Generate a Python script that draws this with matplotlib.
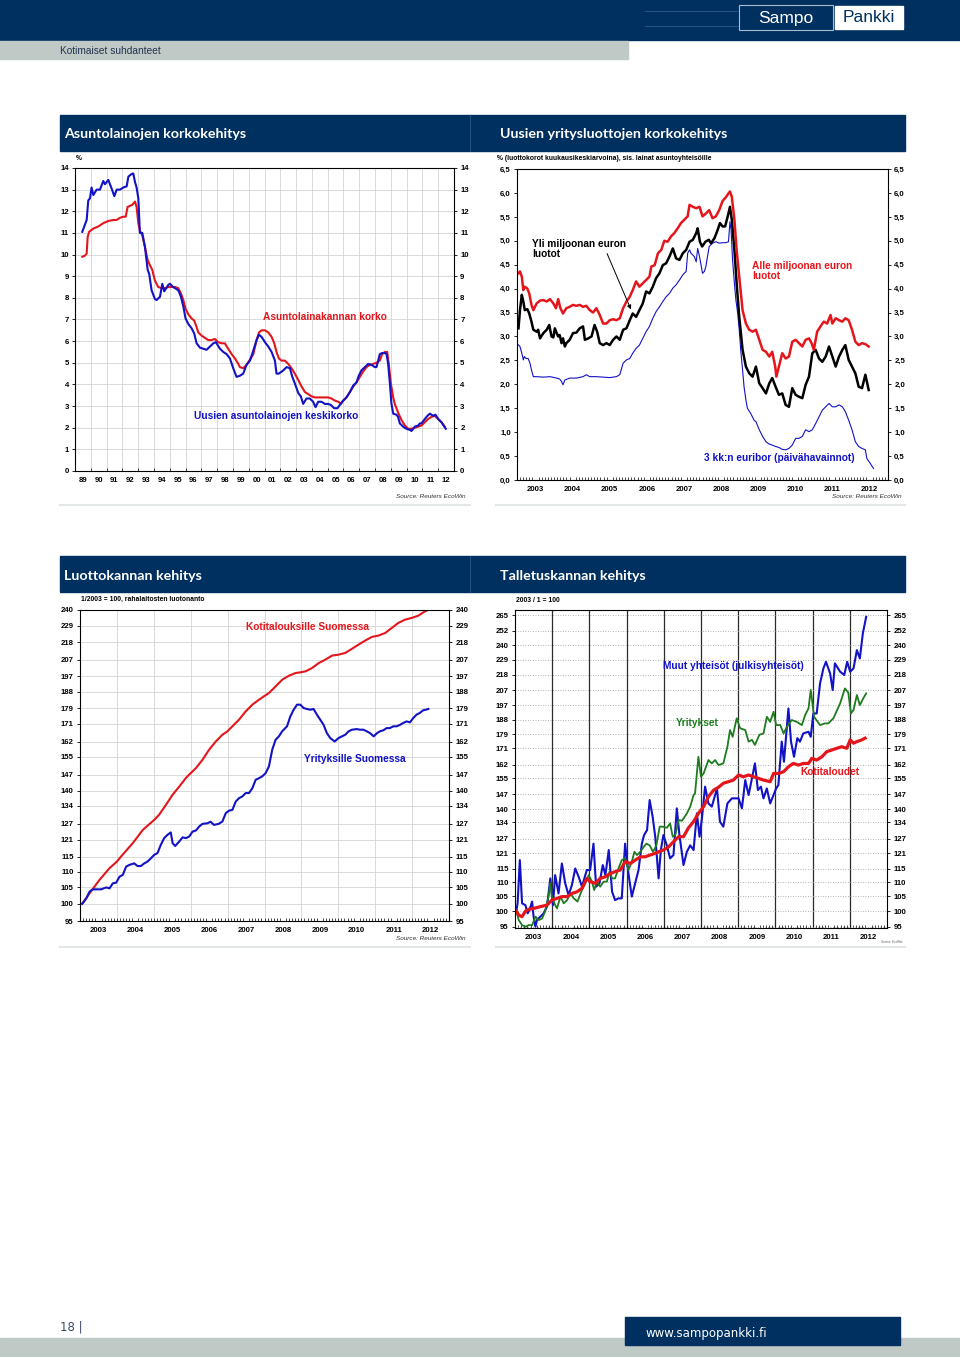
import numpy as np
import matplotlib
matplotlib.use('Agg')
import matplotlib.pyplot as plt
from matplotlib.patches import Rectangle
from matplotlib.ticker import FixedLocator, FixedFormatter, NullLocator, MultipleLocator

plt.rcParams['font.family'] = ['Liberation Sans', 'DejaVu Sans']
plt.rcParams['font.weight'] = 'bold'

W, H = 960, 1357
NAVY = '#00305f'
GREYBAND = '#bfc9c5'
RED = '#e4161c'
BLUE = '#1212c6'
GREEN = '#1e7b1e'

# --- Asuntolainojen korkokehitys (%), (year, value)
mortgage_stock = [(1989.46, 9.9), (1989.63, 9.95), (1989.74, 10.05), (1989.80, 10.8), (1989.89, 11.05),
    (1990.16, 11.2), (1990.48, 11.3), (1990.79, 11.45), (1991.11, 11.55), (1991.43, 11.6), (1991.64, 11.6),
    (1991.85, 11.7), (1992.06, 11.75), (1992.21, 11.75), (1992.33, 12.2), (1992.48, 12.25), (1992.63, 12.3),
    (1992.80, 12.45), (1992.90, 12.2), (1993.01, 11.45), (1993.11, 11.1), (1993.26, 10.9), (1993.43, 10.35),
    (1993.60, 9.75), (1993.75, 9.5), (1993.89, 9.3), (1994.06, 8.8), (1994.27, 8.5), (1994.49, 8.45),
    (1994.70, 8.45), (1994.91, 8.5), (1995.12, 8.5), (1995.33, 8.5), (1995.54, 8.45), (1995.71, 8.2),
    (1995.86, 7.9), (1996.00, 7.5), (1996.17, 7.25), (1996.38, 7.05), (1996.55, 6.95), (1996.70, 6.65),
    (1996.81, 6.4), (1997.02, 6.25), (1997.23, 6.15), (1997.44, 6.05), (1997.65, 6.05), (1997.86, 6.1),
    (1998.07, 5.95), (1998.28, 5.9), (1998.49, 5.9), (1998.70, 5.65), (1998.92, 5.4), (1999.13, 5.2),
    (1999.34, 4.95), (1999.44, 4.8), (1999.65, 4.75), (1999.86, 4.9), (2000.08, 5.15), (2000.29, 5.4),
    (2000.50, 6.05), (2000.65, 6.4), (2000.81, 6.5), (2001.03, 6.5), (2001.24, 6.4), (2001.45, 6.2),
    (2001.62, 5.9), (2001.76, 5.5), (2001.91, 5.2), (2002.08, 5.1), (2002.29, 5.1), (2002.50, 4.95),
    (2002.71, 4.75), (2002.92, 4.5), (2003.14, 4.2), (2003.35, 3.9), (2003.56, 3.65), (2003.77, 3.55),
    (2003.98, 3.45), (2004.19, 3.4), (2004.40, 3.4), (2004.61, 3.4), (2004.82, 3.4), (2005.03, 3.4),
    (2005.24, 3.35), (2005.46, 3.25), (2005.67, 3.2), (2005.84, 3.1), (2005.98, 3.25), (2006.19, 3.4),
    (2006.41, 3.65), (2006.62, 3.9), (2006.83, 4.1), (2007.04, 4.35), (2007.25, 4.6), (2007.46, 4.8),
    (2007.67, 4.9), (2007.88, 4.95), (2008.09, 5.0), (2008.30, 5.1), (2008.45, 5.4), (2008.62, 5.5),
    (2008.77, 5.5), (2008.87, 4.95), (2009.00, 4.05), (2009.15, 3.4), (2009.25, 3.1), (2009.46, 2.7),
    (2009.68, 2.35), (2009.89, 2.1), (2010.10, 1.95), (2010.31, 1.95), (2010.52, 2.0), (2010.73, 2.05),
    (2010.94, 2.1), (2011.15, 2.25), (2011.36, 2.4), (2011.57, 2.5), (2011.78, 2.55), (2012.00, 2.4),
    (2012.21, 2.25), (2012.42, 2.05)]

mortgage_new = [(1989.46, 11.05), (1989.74, 11.6), (1989.84, 12.5), (1989.95, 12.6), (1990.05, 13.1),
    (1990.16, 12.75), (1990.37, 13.0), (1990.58, 13.0), (1990.79, 13.4), (1990.90, 13.25), (1991.11, 13.45),
    (1991.32, 13.05), (1991.49, 12.7), (1991.64, 13.0), (1991.85, 13.0), (1992.06, 13.1), (1992.27, 13.15),
    (1992.38, 13.6), (1992.54, 13.7), (1992.69, 13.75), (1992.80, 13.35), (1992.90, 13.1), (1993.01, 12.6),
    (1993.07, 11.6), (1993.11, 11.0), (1993.26, 11.0), (1993.43, 10.35), (1993.60, 9.3), (1993.70, 9.1),
    (1993.85, 8.35), (1994.06, 7.95), (1994.17, 7.9), (1994.38, 8.05), (1994.53, 8.65), (1994.65, 8.3),
    (1994.91, 8.6), (1995.01, 8.65), (1995.22, 8.5), (1995.54, 8.35), (1995.71, 8.05), (1995.86, 7.6),
    (1996.00, 7.05), (1996.17, 6.8), (1996.38, 6.6), (1996.55, 6.35), (1996.70, 5.9), (1996.91, 5.7),
    (1997.12, 5.65), (1997.33, 5.6), (1997.54, 5.75), (1997.76, 5.9), (1997.92, 5.95), (1998.18, 5.65),
    (1998.39, 5.5), (1998.60, 5.4), (1998.81, 5.2), (1999.02, 4.75), (1999.23, 4.35), (1999.44, 4.4),
    (1999.65, 4.5), (1999.86, 4.9), (2000.08, 5.1), (2000.22, 5.4), (2000.39, 5.8), (2000.50, 6.05),
    (2000.65, 6.3), (2000.81, 6.2), (2001.03, 5.95), (2001.24, 5.75), (2001.45, 5.5), (2001.66, 5.1),
    (2001.76, 4.5), (2001.91, 4.5), (2002.19, 4.65), (2002.40, 4.8), (2002.61, 4.75), (2002.76, 4.35),
    (2002.92, 4.05), (2003.14, 3.6), (2003.30, 3.45), (2003.45, 3.1), (2003.66, 3.35), (2003.87, 3.35),
    (2004.08, 3.2), (2004.23, 2.95), (2004.40, 3.2), (2004.61, 3.2), (2004.82, 3.1), (2005.03, 3.1),
    (2005.20, 3.05), (2005.41, 2.9), (2005.62, 2.9), (2005.77, 3.05), (2005.98, 3.25), (2006.19, 3.4),
    (2006.41, 3.65), (2006.62, 3.95), (2006.83, 4.1), (2006.97, 4.4), (2007.14, 4.65), (2007.35, 4.8),
    (2007.57, 4.95), (2007.78, 4.9), (2007.99, 4.8), (2008.09, 4.8), (2008.20, 5.1), (2008.30, 5.4),
    (2008.45, 5.45), (2008.62, 5.45), (2008.73, 5.4), (2008.83, 4.95), (2008.94, 4.05), (2009.04, 3.1),
    (2009.15, 2.65), (2009.36, 2.6), (2009.46, 2.5), (2009.57, 2.2), (2009.78, 2.05), (2009.99, 1.95),
    (2010.20, 1.9), (2010.31, 1.85), (2010.52, 2.05), (2010.73, 2.1), (2010.84, 2.2), (2010.94, 2.2),
    (2011.15, 2.4), (2011.32, 2.55), (2011.47, 2.65), (2011.68, 2.55), (2011.83, 2.6), (2012.00, 2.4),
    (2012.21, 2.25), (2012.38, 2.05), (2012.48, 1.95)]

# --- Uusien yritysluottojen korkokehitys (%)
loans_small = [(2003.04, 4.32), (2003.08, 4.36), (2003.13, 4.25), (2003.17, 3.97), (2003.21, 4.04),
    (2003.28, 4.0), (2003.33, 3.9), (2003.39, 3.66), (2003.44, 3.55), (2003.53, 3.69), (2003.62, 3.75),
    (2003.71, 3.76), (2003.80, 3.73), (2003.89, 3.78), (2003.98, 3.69), (2004.05, 3.59), (2004.11, 3.78),
    (2004.17, 3.59), (2004.24, 3.48), (2004.33, 3.59), (2004.42, 3.62), (2004.51, 3.66), (2004.60, 3.64),
    (2004.69, 3.66), (2004.78, 3.62), (2004.87, 3.64), (2004.96, 3.55), (2005.05, 3.5), (2005.14, 3.59),
    (2005.23, 3.45), (2005.32, 3.27), (2005.41, 3.27), (2005.50, 3.34), (2005.59, 3.36), (2005.68, 3.34),
    (2005.77, 3.38), (2005.86, 3.59), (2005.95, 3.73), (2006.04, 3.83), (2006.12, 3.97), (2006.21, 4.15),
    (2006.30, 4.04), (2006.39, 4.11), (2006.48, 4.18), (2006.57, 4.25), (2006.62, 4.46), (2006.71, 4.49),
    (2006.80, 4.74), (2006.89, 4.81), (2006.97, 5.0), (2007.06, 4.98), (2007.15, 5.09), (2007.24, 5.16),
    (2007.33, 5.26), (2007.42, 5.37), (2007.51, 5.44), (2007.60, 5.51), (2007.65, 5.75), (2007.74, 5.71),
    (2007.83, 5.68), (2007.92, 5.71), (2008.00, 5.51), (2008.09, 5.57), (2008.18, 5.64), (2008.27, 5.47),
    (2008.36, 5.51), (2008.45, 5.64), (2008.54, 5.83), (2008.63, 5.91), (2008.70, 5.99), (2008.74, 6.03),
    (2008.79, 5.92), (2008.86, 5.44), (2008.92, 4.81), (2008.99, 4.25), (2009.08, 3.55), (2009.17, 3.27),
    (2009.26, 3.14), (2009.35, 3.1), (2009.44, 3.14), (2009.53, 2.93), (2009.62, 2.72), (2009.71, 2.68),
    (2009.80, 2.58), (2009.88, 2.68), (2009.96, 2.37), (2009.99, 2.16), (2010.06, 2.37), (2010.15, 2.65),
    (2010.24, 2.54), (2010.33, 2.58), (2010.42, 2.89), (2010.51, 2.93), (2010.60, 2.86), (2010.69, 2.79),
    (2010.78, 2.93), (2010.87, 2.96), (2010.94, 2.86), (2011.00, 2.72), (2011.09, 3.1), (2011.18, 3.21),
    (2011.27, 3.31), (2011.36, 3.27), (2011.45, 3.45), (2011.50, 3.27), (2011.59, 3.38), (2011.68, 3.34),
    (2011.77, 3.31), (2011.85, 3.38), (2011.94, 3.34), (2012.03, 3.14), (2012.12, 2.89), (2012.21, 2.82),
    (2012.30, 2.86), (2012.39, 2.84), (2012.48, 2.79)]

loans_large = [(2003.04, 3.17), (2003.08, 3.55), (2003.13, 3.87), (2003.17, 3.73), (2003.21, 3.55),
    (2003.28, 3.57), (2003.33, 3.48), (2003.39, 3.31), (2003.44, 3.14), (2003.53, 3.1), (2003.57, 3.14),
    (2003.62, 2.96), (2003.71, 3.07), (2003.80, 3.14), (2003.87, 3.24), (2003.93, 3.0), (2003.98, 2.98),
    (2004.02, 3.17), (2004.07, 3.07), (2004.11, 3.0), (2004.15, 3.03), (2004.20, 2.86), (2004.24, 2.96),
    (2004.29, 2.79), (2004.33, 2.86), (2004.42, 2.93), (2004.51, 3.07), (2004.60, 3.08), (2004.69, 3.17),
    (2004.78, 3.21), (2004.83, 2.93), (2004.92, 2.96), (2005.01, 3.0), (2005.09, 3.24), (2005.16, 3.1),
    (2005.23, 2.86), (2005.32, 2.82), (2005.41, 2.86), (2005.50, 2.82), (2005.59, 2.93), (2005.68, 3.0),
    (2005.77, 2.93), (2005.86, 3.14), (2005.95, 3.17), (2006.04, 3.34), (2006.12, 3.48), (2006.21, 3.41),
    (2006.30, 3.55), (2006.39, 3.69), (2006.48, 3.94), (2006.57, 3.9), (2006.66, 4.04), (2006.75, 4.22),
    (2006.84, 4.32), (2006.93, 4.49), (2007.02, 4.53), (2007.11, 4.67), (2007.20, 4.84), (2007.29, 4.63),
    (2007.38, 4.6), (2007.47, 4.74), (2007.56, 4.81), (2007.65, 4.98), (2007.74, 5.02), (2007.83, 5.16),
    (2007.87, 5.26), (2007.93, 4.98), (2007.99, 4.88), (2008.08, 4.98), (2008.17, 5.02), (2008.23, 4.95),
    (2008.32, 5.05), (2008.41, 5.23), (2008.47, 5.37), (2008.54, 5.3), (2008.61, 5.3), (2008.68, 5.51),
    (2008.74, 5.71), (2008.79, 5.44), (2008.86, 4.81), (2008.92, 4.11), (2008.99, 3.41), (2009.08, 2.72),
    (2009.17, 2.37), (2009.26, 2.23), (2009.35, 2.16), (2009.44, 2.37), (2009.53, 2.02), (2009.62, 1.92),
    (2009.71, 1.81), (2009.80, 2.02), (2009.88, 2.13), (2009.97, 1.95), (2010.06, 1.78), (2010.15, 1.81),
    (2010.24, 1.57), (2010.33, 1.53), (2010.42, 1.92), (2010.51, 1.78), (2010.60, 1.74), (2010.69, 1.71),
    (2010.78, 1.99), (2010.87, 2.16), (2010.96, 2.65), (2011.05, 2.72), (2011.14, 2.54), (2011.23, 2.47),
    (2011.32, 2.58), (2011.41, 2.79), (2011.50, 2.58), (2011.59, 2.37), (2011.68, 2.58), (2011.77, 2.72),
    (2011.85, 2.82), (2011.94, 2.51), (2012.03, 2.37), (2012.12, 2.23), (2012.21, 1.95), (2012.30, 1.92),
    (2012.39, 2.2), (2012.48, 1.88)]

euribor_3m = [(2002.99, 2.86), (2003.08, 2.79), (2003.13, 2.65), (2003.17, 2.51), (2003.20, 2.58),
    (2003.24, 2.54), (2003.30, 2.54), (2003.35, 2.44), (2003.39, 2.3), (2003.44, 2.16), (2003.53, 2.16),
    (2003.71, 2.15), (2003.89, 2.16), (2004.07, 2.13), (2004.15, 2.11), (2004.20, 2.06), (2004.24, 1.99),
    (2004.29, 2.09), (2004.42, 2.13), (2004.60, 2.13), (2004.78, 2.16), (2004.87, 2.2), (2004.96, 2.16),
    (2005.14, 2.16), (2005.32, 2.15), (2005.50, 2.14), (2005.68, 2.16), (2005.77, 2.2), (2005.86, 2.44),
    (2005.95, 2.51), (2006.04, 2.54), (2006.12, 2.65), (2006.21, 2.75), (2006.30, 2.82), (2006.39, 2.96),
    (2006.48, 3.1), (2006.57, 3.21), (2006.66, 3.38), (2006.75, 3.52), (2006.84, 3.62), (2006.93, 3.73),
    (2007.02, 3.83), (2007.11, 3.9), (2007.20, 4.01), (2007.29, 4.08), (2007.38, 4.18), (2007.47, 4.29),
    (2007.56, 4.36), (2007.60, 4.74), (2007.65, 4.81), (2007.69, 4.74), (2007.78, 4.67), (2007.83, 4.56),
    (2007.87, 4.84), (2007.92, 4.67), (2008.00, 4.32), (2008.05, 4.36), (2008.09, 4.46), (2008.18, 4.88),
    (2008.27, 4.95), (2008.36, 4.98), (2008.45, 4.95), (2008.54, 4.96), (2008.63, 4.96), (2008.70, 4.98),
    (2008.74, 5.4), (2008.77, 5.23), (2008.81, 4.6), (2008.86, 4.11), (2008.90, 3.76), (2008.95, 3.48),
    (2008.99, 3.14), (2009.03, 2.72), (2009.08, 2.3), (2009.12, 1.95), (2009.17, 1.67), (2009.21, 1.5),
    (2009.30, 1.39), (2009.39, 1.25), (2009.44, 1.22), (2009.53, 1.05), (2009.62, 0.91), (2009.71, 0.8),
    (2009.80, 0.75), (2009.88, 0.73), (2009.97, 0.7), (2010.06, 0.68), (2010.15, 0.64), (2010.24, 0.63),
    (2010.33, 0.66), (2010.42, 0.73), (2010.51, 0.87), (2010.60, 0.87), (2010.69, 0.91), (2010.78, 1.05),
    (2010.87, 1.01), (2010.96, 1.05), (2011.05, 1.18), (2011.14, 1.32), (2011.23, 1.46), (2011.32, 1.53),
    (2011.41, 1.6), (2011.50, 1.53), (2011.59, 1.53), (2011.68, 1.57), (2011.77, 1.53), (2011.85, 1.43),
    (2011.94, 1.25), (2012.03, 1.05), (2012.12, 0.8), (2012.21, 0.7), (2012.30, 0.66), (2012.39, 0.63),
    (2012.43, 0.45), (2012.52, 0.35), (2012.61, 0.24)]

# --- Luottokannan kehitys (1/2003 = 100)
credit_households = [(2003.06, 100), (2003.26, 103.2), (2003.53, 107.4), (2003.80, 111.2), (2004.00, 113.4),
    (2004.15, 115.7), (2004.43, 119.8), (2004.70, 124.6), (2005.01, 128.4), (2005.14, 130.3), (2005.33, 134.3),
    (2005.51, 138.4), (2005.69, 141.8), (2005.87, 145.5), (2006.00, 147.6), (2006.14, 149.8), (2006.32, 153.6),
    (2006.50, 158.3), (2006.68, 162.2), (2006.86, 165.5), (2006.99, 167.1), (2007.13, 169.7), (2007.31, 173.1),
    (2007.49, 177.4), (2007.67, 181.0), (2007.85, 183.7), (2007.98, 185.5), (2008.12, 187.4), (2008.30, 191.1),
    (2008.48, 195.0), (2008.66, 197.3), (2008.84, 198.9), (2008.97, 199.3), (2009.11, 199.9), (2009.29, 201.9),
    (2009.47, 204.9), (2009.65, 207.0), (2009.83, 209.5), (2010.01, 210.1), (2010.19, 211.2), (2010.37, 213.8),
    (2010.55, 216.5), (2010.73, 219.1), (2010.91, 221.5), (2011.09, 222.4), (2011.27, 224.1), (2011.45, 227.5),
    (2011.63, 231.0), (2011.81, 233.2), (2011.99, 234.4), (2012.17, 236.0), (2012.35, 239.1), (2012.44, 240.0)]

credit_companies = [(2003.06, 100), (2003.17, 101.6), (2003.26, 103.7), (2003.35, 104.4), (2003.44, 104.4),
    (2003.57, 104.4), (2003.71, 105.0), (2003.80, 104.7), (2003.89, 106.3), (2003.98, 106.5), (2004.07, 108.4),
    (2004.16, 109.0), (2004.25, 111.7), (2004.34, 112.3), (2004.47, 112.8), (2004.56, 111.9), (2004.65, 111.9),
    (2004.74, 112.8), (2004.83, 113.4), (2004.92, 114.5), (2005.01, 115.7), (2005.10, 116.3), (2005.19, 119.2),
    (2005.28, 121.6), (2005.37, 122.8), (2005.46, 123.7), (2005.51, 119.8), (2005.58, 118.8), (2005.69, 120.4),
    (2005.78, 121.9), (2005.87, 121.6), (2005.96, 122.2), (2006.05, 124.0), (2006.14, 124.4), (2006.23, 125.9),
    (2006.32, 126.9), (2006.45, 127.1), (2006.54, 127.7), (2006.63, 126.5), (2006.76, 126.9), (2006.86, 127.8),
    (2006.95, 131.0), (2007.04, 132.0), (2007.13, 132.3), (2007.22, 135.6), (2007.31, 137.0), (2007.40, 137.7),
    (2007.49, 139.1), (2007.58, 139.1), (2007.67, 141.1), (2007.76, 144.7), (2007.85, 145.4), (2007.94, 146.2),
    (2008.03, 147.6), (2008.12, 150.6), (2008.21, 158.3), (2008.30, 163.0), (2008.39, 164.7), (2008.48, 167.2),
    (2008.61, 169.7), (2008.70, 174.8), (2008.79, 178.3), (2008.88, 181.0), (2008.97, 181.0), (2009.06, 179.2),
    (2009.15, 178.7), (2009.24, 178.3), (2009.33, 178.7), (2009.42, 175.7), (2009.51, 173.1), (2009.60, 170.5),
    (2009.69, 166.3), (2009.78, 163.9), (2009.90, 162.2), (2010.01, 163.9), (2010.10, 164.7), (2010.19, 165.5),
    (2010.28, 167.2), (2010.37, 168.0), (2010.50, 168.3), (2010.59, 168.0), (2010.68, 168.0), (2010.77, 167.2),
    (2010.86, 166.3), (2010.96, 164.7), (2011.05, 166.3), (2011.13, 167.2), (2011.22, 167.7), (2011.31, 168.8),
    (2011.40, 168.8), (2011.49, 169.7), (2011.58, 169.7), (2011.68, 170.5), (2011.76, 171.4), (2011.85, 172.2),
    (2011.94, 171.7), (2012.03, 173.9), (2012.12, 175.7), (2012.21, 176.6), (2012.30, 178.0), (2012.37, 178.3),
    (2012.44, 178.7)]

# --- Talletuskannan kehitys (2003/1 = 100)
deposits_households = [(2003.04, 100), (2003.10, 98.7), (2003.19, 98.2), (2003.28, 100), (2003.37, 100.6),
    (2003.50, 100.9), (2003.68, 101.5), (2003.86, 102.0), (2003.99, 103.7), (2004.13, 104.3), (2004.26, 104.9),
    (2004.40, 104.9), (2004.53, 106.0), (2004.67, 106.6), (2004.80, 107.8), (2004.93, 111.4), (2005.02, 110.2),
    (2005.16, 109.6), (2005.29, 111.4), (2005.43, 112.0), (2005.56, 113.2), (2005.69, 113.9), (2005.83, 114.5),
    (2005.96, 117.7), (2006.10, 117.0), (2006.23, 118.3), (2006.37, 119.6), (2006.50, 119.6), (2006.63, 120.3),
    (2006.77, 121.0), (2006.86, 121.6), (2006.99, 122.3), (2007.13, 123.6), (2007.26, 125.7), (2007.40, 127.8),
    (2007.53, 127.8), (2007.66, 131.5), (2007.80, 134.3), (2007.93, 138.0), (2008.07, 141.1), (2008.20, 145.8),
    (2008.34, 149.0), (2008.47, 150.4), (2008.60, 152.4), (2008.74, 153.2), (2008.87, 154.0), (2009.01, 156.6),
    (2009.14, 155.7), (2009.28, 156.6), (2009.41, 155.7), (2009.54, 154.9), (2009.68, 154.0), (2009.86, 153.2),
    (2009.95, 157.4), (2010.08, 157.4), (2010.22, 158.3), (2010.35, 160.9), (2010.48, 162.7), (2010.62, 161.8),
    (2010.75, 162.7), (2010.89, 162.7), (2010.98, 165.4), (2011.11, 164.5), (2011.25, 166.3), (2011.38, 169.1),
    (2011.51, 170.0), (2011.65, 171.0), (2011.78, 171.9), (2011.92, 171.0), (2012.01, 175.8), (2012.10, 173.9),
    (2012.19, 174.8), (2012.32, 175.8), (2012.41, 176.8)]

deposits_companies = [(2003.04, 100), (2003.10, 97.1), (2003.19, 95.5), (2003.28, 95.0), (2003.37, 95.5),
    (2003.46, 95.5), (2003.55, 98.2), (2003.64, 97.1), (2003.73, 97.6), (2003.81, 100), (2003.90, 104.9),
    (2003.95, 109.6), (2003.99, 104.9), (2004.08, 102.0), (2004.13, 100.9), (2004.22, 104.9), (2004.31, 102.6),
    (2004.40, 103.7), (2004.49, 106.0), (2004.58, 104.3), (2004.68, 103.2), (2004.80, 107.2), (2004.89, 109.6),
    (2004.98, 112.6), (2005.07, 110.2), (2005.13, 107.2), (2005.20, 110.2), (2005.29, 108.4), (2005.38, 110.2),
    (2005.47, 110.2), (2005.54, 113.9), (2005.61, 111.4), (2005.69, 111.4), (2005.78, 115.1), (2005.87, 118.3),
    (2005.96, 119.0), (2006.05, 114.5), (2006.14, 117.7), (2006.21, 121.6), (2006.28, 120.3), (2006.37, 121.6),
    (2006.46, 123.6), (2006.53, 124.9), (2006.62, 124.2), (2006.71, 121.6), (2006.80, 124.2), (2006.89, 132.1),
    (2006.97, 132.1), (2007.08, 131.6), (2007.17, 133.5), (2007.24, 127.8), (2007.31, 128.5), (2007.40, 135.0),
    (2007.49, 134.7), (2007.62, 138.0), (2007.71, 141.1), (2007.80, 146.6), (2007.84, 147.4), (2007.93, 166.3),
    (2008.00, 155.7), (2008.07, 157.4), (2008.20, 164.5), (2008.29, 162.7), (2008.38, 164.5), (2008.47, 161.8),
    (2008.60, 162.7), (2008.71, 171.9), (2008.78, 181.6), (2008.85, 177.6), (2008.96, 188.8), (2009.05, 182.7),
    (2009.19, 181.6), (2009.28, 174.8), (2009.37, 175.8), (2009.45, 172.9), (2009.57, 178.8), (2009.68, 179.6),
    (2009.77, 189.7), (2009.86, 186.6), (2009.95, 192.9), (2010.02, 184.6), (2010.13, 184.6), (2010.22, 179.6),
    (2010.31, 183.6), (2010.44, 187.7), (2010.57, 186.6), (2010.71, 184.6), (2010.80, 190.8), (2010.89, 195.0),
    (2010.95, 207.2), (2011.04, 189.7), (2011.20, 184.6), (2011.33, 185.6), (2011.42, 185.6), (2011.56, 188.8),
    (2011.74, 198.3), (2011.87, 208.3), (2011.96, 205.4), (2012.03, 191.8), (2012.10, 194.0), (2012.19, 203.8),
    (2012.27, 197.2), (2012.36, 201.5), (2012.44, 204.9)]

deposits_public = [(2003.04, 100.4), (2003.07, 102.6), (2003.13, 118.3), (2003.19, 102.6), (2003.28, 102.0),
    (2003.34, 99.3), (2003.39, 100.4), (2003.46, 103.2), (2003.50, 98.2), (2003.55, 95.0), (2003.59, 97.1),
    (2003.68, 98.2), (2003.77, 99.3), (2003.86, 101.5), (2003.95, 111.4), (2004.02, 102.0), (2004.08, 112.6),
    (2004.17, 106.0), (2004.26, 117.0), (2004.35, 109.6), (2004.44, 105.4), (2004.53, 109.0), (2004.62, 115.1),
    (2004.71, 112.0), (2004.80, 108.4), (2004.93, 114.5), (2005.02, 114.5), (2005.11, 124.9), (2005.18, 108.4),
    (2005.27, 109.6), (2005.36, 116.4), (2005.43, 112.6), (2005.52, 122.3), (2005.61, 106.6), (2005.69, 103.7),
    (2005.78, 104.3), (2005.87, 104.3), (2005.96, 124.9), (2006.05, 113.2), (2006.14, 104.9), (2006.23, 109.6),
    (2006.32, 114.5), (2006.41, 124.9), (2006.47, 128.5), (2006.55, 130.6), (2006.62, 144.2), (2006.70, 136.5),
    (2006.77, 127.8), (2006.86, 111.4), (2006.92, 122.3), (2006.99, 128.5), (2007.08, 124.2), (2007.17, 119.0),
    (2007.26, 120.3), (2007.35, 140.3), (2007.42, 128.5), (2007.53, 116.4), (2007.62, 121.6), (2007.71, 124.2),
    (2007.80, 122.3), (2007.89, 138.0), (2007.96, 127.8), (2008.02, 135.0), (2008.11, 150.7), (2008.20, 142.6),
    (2008.29, 141.1), (2008.43, 149.8), (2008.51, 134.3), (2008.60, 132.1), (2008.71, 142.6), (2008.83, 145.0),
    (2008.92, 145.0), (2009.01, 145.0), (2009.10, 140.3), (2009.19, 154.0), (2009.28, 146.6), (2009.37, 154.9),
    (2009.45, 162.7), (2009.53, 149.0), (2009.61, 150.7), (2009.68, 145.0), (2009.77, 149.8), (2009.86, 142.6),
    (2009.95, 146.6), (2010.02, 149.8), (2010.08, 151.5), (2010.17, 174.8), (2010.23, 163.6), (2010.35, 195.0),
    (2010.42, 174.8), (2010.50, 166.3), (2010.59, 176.8), (2010.66, 174.8), (2010.75, 179.6), (2010.89, 180.6),
    (2010.95, 177.6), (2011.02, 191.8), (2011.11, 191.8), (2011.20, 211.7), (2011.29, 222.5), (2011.36, 227.4),
    (2011.47, 218.9), (2011.54, 207.2), (2011.60, 226.2), (2011.74, 220.1), (2011.85, 217.7), (2011.93, 227.4),
    (2012.01, 220.1), (2012.10, 222.5), (2012.19, 236.3), (2012.27, 229.9), (2012.35, 249.6), (2012.44, 263.7)]

# axis labels
short_years = ['89', '90', '91', '92', '93', '94', '95', '96', '97', '98', '99', '00',
               '01', '02', '03', '04', '05', '06', '07', '08', '09', '10', '11', '12']
long_years = ['2003', '2004', '2005', '2006', '2007', '2008', '2009', '2010', '2011', '2012']
rate_ticks = list(range(0, 15))
corp_rate_ticks = [0.0, 0.5, 1.0, 1.5, 2.0, 2.5, 3.0, 3.5, 4.0, 4.5, 5.0, 5.5, 6.0, 6.5]
credit_ticks = [95, 100, 105, 110, 115, 121, 127, 134, 140, 147, 155, 162, 171, 179, 188, 197, 207, 218, 229, 240]
deposit_ticks = credit_ticks + [252, 265]


def unzip(pairs):
    a = np.array(pairs, dtype=float)
    return a[:, 0], a[:, 1]


fig = plt.figure(figsize=(W / 100, H / 100), dpi=100)
fig.patch.set_facecolor('white')
bg = fig.add_axes([0, 0, 1, 1])
bg.set_xlim(0, W)
bg.set_ylim(H, 0)
bg.axis('off')


def box(x0, y0, x1, y1, **kw):
    bg.add_patch(Rectangle((x0, y0), x1 - x0, y1 - y0, **kw))


def panel(x0, y0, x1, y1):
    ax = fig.add_axes([x0 / W, 1 - y1 / H, (x1 - x0) / W, (y1 - y0) / H])
    ax.patch.set_alpha(0)
    for s in ax.spines.values():
        s.set_linewidth(0.8)
    return ax


def year_axis(ax, first, last, labels, monthly):
    ax.set_xlim(first, last)
    ax.xaxis.set_major_locator(FixedLocator(np.arange(first, last) + 0.5))
    ax.xaxis.set_major_formatter(FixedFormatter(labels))
    ax.xaxis.set_minor_locator(MultipleLocator(1 / 12 if monthly else 1))
    ax.tick_params(axis='x', which='major', length=0, pad=4, labelsize=5.6)
    ax.tick_params(axis='x', which='minor', length=2.2 if monthly else 2.5, width=0.5, direction='in')


def value_axis(ax, ticks, labels):
    ax.yaxis.set_major_locator(FixedLocator(ticks))
    ax.yaxis.set_major_formatter(FixedFormatter(labels))
    ax.yaxis.set_minor_locator(NullLocator())
    ax.tick_params(axis='y', which='major', left=True, right=True, labelleft=True, labelright=True,
                   length=2.5, width=0.6, labelsize=5.6, pad=2)


# ---------- page decoration ----------
box(0, 0, W, 40, color=NAVY)
bg.plot([645, 738], [11, 11], color='#2a5584', lw=0.7)
bg.plot([645, 738], [26, 26], color='#2a5584', lw=0.7)
box(739, 5, 833, 30, fill=False, ec='#a9bccf', lw=0.8)
box(835, 6, 903, 29, color='white')
bg.text(786, 18, 'Sampo', color='white', fontsize=12.5, weight='normal', ha='center', va='center',
        family=['Liberation Sans Narrow', 'Liberation Sans'])
bg.text(869, 18, 'Pankki', color=NAVY, fontsize=12.5, weight='normal', ha='center', va='center',
        family=['Liberation Sans Narrow', 'Liberation Sans'])
box(0, 41, 628, 59, color=GREYBAND)
bg.text(60, 50.5, 'Kotimaiset suhdanteet', color='#22334f', fontsize=7.3, weight='normal', va='center',
        family=['Liberation Sans Narrow', 'Liberation Sans'])

for ytop in (115, 556):
    box(60, ytop, 905, ytop + 36, color=NAVY)
    bg.plot([470, 470], [ytop, ytop + 36], color='#234d7c', lw=0.8)
title_kw = dict(color='white', fontsize=10.3, weight='bold', va='center', family=['Lato', 'DejaVu Sans'])
bg.text(64, 134, 'Asuntolainojen korkokehitys', **title_kw)
bg.text(500, 134, 'Uusien yritysluottojen korkokehitys', **title_kw)
bg.text(64, 576, 'Luottokannan kehitys', **title_kw)
bg.text(500, 576, 'Talletuskannan kehitys', **title_kw)

for yline in (505, 947):
    bg.plot([60, 470], [yline, yline], color='#e3e7e7', lw=1.5)
    bg.plot([496, 905], [yline, yline], color='#e3e7e7', lw=1.5)

box(0, 1338, W, H, color=GREYBAND)
box(625, 1317, 900, 1345, color=NAVY)
bg.text(645, 1334, 'www.sampopankki.fi', color='white', fontsize=8.5, weight='normal', va='center',
        family='DejaVu Sans')
bg.text(60, 1327, '18 |', color='#3a4a66', fontsize=8.5, weight='normal', va='center', family='DejaVu Sans')

# ---------- chart 1 ----------
ax1 = panel(75, 168, 454, 471)
x, y = unzip(mortgage_stock)
ax1.plot(x, y, color=RED, lw=1.5)
x, y = unzip(mortgage_new)
ax1.plot(x, y, color=BLUE, lw=1.5)
year_axis(ax1, 1989, 2013, short_years, monthly=False)
ax1.set_ylim(0, 14)
value_axis(ax1, rate_ticks, [str(v) for v in rate_ticks])
ax1.grid(True, which='minor', axis='x', color='#d4d4d4', lw=0.6)
ax1.grid(True, which='major', axis='y', color='#d4d4d4', lw=0.6)
ax1.set_axisbelow(True)

# ---------- chart 2 ----------
ax2 = panel(517, 169, 888, 480)
x, y = unzip(euribor_3m)
ax2.plot(x, y, color=BLUE, lw=0.8)
x, y = unzip(loans_large)
ax2.plot(x, y, color='black', lw=1.8)
x, y = unzip(loans_small)
ax2.plot(x, y, color=RED, lw=1.8)
year_axis(ax2, 2003, 2013, long_years, monthly=True)
ax2.set_ylim(0, 6.5)
value_axis(ax2, corp_rate_ticks, [f'{v:.1f}'.replace('.', ',') for v in corp_rate_ticks])

# ---------- chart 3 ----------
ax3 = panel(80, 610, 449, 921)
ax3.set_yscale('log')
for yr in range(2004, 2013):
    ax3.axvline(yr, color='#d4d4d4', lw=0.6, zorder=0)
x, y = unzip(credit_households)
ax3.plot(x, y, color=RED, lw=1.5)
x, y = unzip(credit_companies)
ax3.plot(x, y, color=BLUE, lw=1.5)
year_axis(ax3, 2003, 2013, long_years, monthly=True)
ax3.set_ylim(95, 240)
value_axis(ax3, credit_ticks, [str(v) for v in credit_ticks])
ax3.grid(True, which='major', axis='y', color='#d4d4d4', lw=0.6)
ax3.set_axisbelow(True)

# ---------- chart 4 ----------
ax4 = panel(515, 610, 887, 928)
ax4.set_yscale('log')
for yr in range(2004, 2013):
    ax4.axvline(yr, color='#2b2b2b', lw=0.9, zorder=0)
x, y = unzip(deposits_public)
ax4.plot(x, y, color=BLUE, lw=1.5)
x, y = unzip(deposits_companies)
ax4.plot(x, y, color=GREEN, lw=1.3)
x, y = unzip(deposits_households)
ax4.plot(x, y, color=RED, lw=2.3)
year_axis(ax4, 2003, 2013, long_years, monthly=True)
ax4.set_ylim(94.6, 269.7)
value_axis(ax4, deposit_ticks, [str(v) for v in deposit_ticks])
ax4.grid(True, which='major', axis='y', color='#9a9a9a', lw=0.6, ls=(0, (1, 2)))
ax4.set_axisbelow(True)

# ---------- labels on top ----------
ov = fig.add_axes([0, 0, 1, 1], zorder=20)
ov.set_xlim(0, W)
ov.set_ylim(H, 0)
ov.axis('off')

sub_kw = dict(fontsize=4.9, va='center', color='black')
ov.text(76, 158, '%', **sub_kw)
ov.text(497, 158, '% (luottokorot kuukausikeskiarvoina), sis. lainat asuntoyhteisöille', **sub_kw)
ov.text(81, 599, '1/2003 = 100, rahalaitosten luotonanto', **sub_kw)
ov.text(516, 600, '2003 / 1 = 100', **sub_kw)

src_kw = dict(fontsize=4.6, style='italic', weight='normal', ha='right', va='center', color='#333333')
ov.text(465, 497, 'Source: Reuters EcoWin', **src_kw)
ov.text(901, 497, 'Source: Reuters EcoWin', **src_kw)
ov.text(465, 939, 'Source: Reuters EcoWin', **src_kw)
ov.text(902, 942, 'Source: EcoWin', fontsize=2.2, style='italic', weight='normal', ha='right',
        va='center', color='#555555')

lab = dict(fontsize=7.3, va='center')
ov.text(263, 317, 'Asuntolainakannan korko', color=RED, **lab)
ov.text(194, 416, 'Uusien asuntolainojen keskikorko', color=BLUE, **lab)
ov.text(532, 249, 'Yli miljoonan euron\nluotot', color='black', linespacing=0.95, **lab)
ov.text(752, 271, 'Alle miljoonan euron\nluotot', color=RED, linespacing=0.95, **lab)
ov.text(704, 458, '3 kk:n euribor (päivähavainnot)', color=BLUE, **lab)
ov.annotate('', xy=(632, 312), xytext=(606, 251),
            arrowprops=dict(arrowstyle='-|>', color='black', lw=0.7, mutation_scale=6))
ov.text(246, 627, 'Kotitalouksille Suomessa', color=RED, **lab)
ov.text(304, 759, 'Yrityksille Suomessa', color=BLUE, **lab)
ov.text(663, 666, 'Muut yhteisöt (julkisyhteisöt)', color=BLUE, **lab)
ov.text(676, 723, 'Yritykset', color=GREEN, **lab)
ov.text(800, 772, 'Kotitaloudet', color=RED, **lab)

fig.savefig('out.png', dpi=100, facecolor='white')
